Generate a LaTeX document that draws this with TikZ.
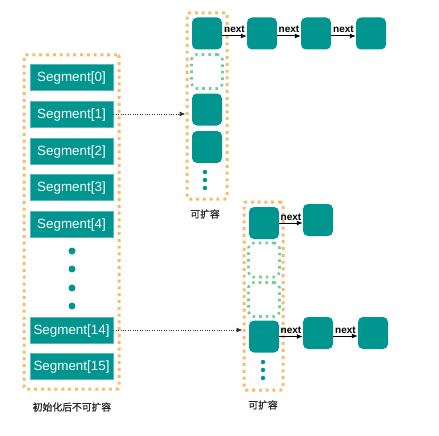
\documentclass[tikz,border=0pt]{standalone}
\usepackage{fontspec}
\setmainfont{Liberation Sans}
\newfontfamily\cjk[FakeBold=0.8]{Noto Sans CJK SC}
\usetikzlibrary{arrows.meta,calc}
\definecolor{teal1}{RGB}{0,150,143}
\definecolor{tealb}{RGB}{90,185,180}
\definecolor{orng}{RGB}{245,188,110}
\definecolor{grn}{RGB}{115,208,148}
\tikzset{
  segbox/.style={rectangle,fill=teal1,draw=tealb,line width=0.6pt,minimum width=83pt,minimum height=26pt,inner sep=0pt,text=white,text height=9.3pt,text depth=1.2pt,font=\fontsize{13.4}{15}\selectfont},
  sq/.style={rectangle,rounded corners=5pt,fill=teal1,minimum width=30pt,minimum height=32pt,inner sep=0pt},
  gsq/.style={rectangle,rounded corners=5pt,draw=grn,line width=2.6pt,dash pattern=on 2.6pt off 4pt,minimum width=31pt,minimum height=34pt,inner sep=0pt},
  obox/.style={rectangle,rounded corners=2pt,draw=orng,line width=3pt,dash pattern=on 3pt off 3.8pt,inner sep=0pt},
  dotn/.style={circle,fill=teal1,inner sep=0pt},
  nextarr/.style={-{Latex[length=6pt,width=5pt]},line width=1pt,black},
  nextlab/.style={font=\bfseries\fontsize{10}{11}\selectfont,inner sep=0pt,anchor=base},
  dotarr/.style={-{Latex[length=6pt,width=5pt]},line width=0.9pt,black!80,dash pattern=on 1pt off 1.4pt},
  cnlab/.style={font=\cjk\fontsize{9.8}{11}\selectfont,text=black!85,inner sep=0pt}
}
\begin{document}
\begin{tikzpicture}[x=1pt,y=-1pt]
\useasboundingbox (0,0) rectangle (439,436);
% left column
\node[obox,minimum width=95pt,minimum height=334pt] (lbox) at (71.5,222) {};
\node[segbox] (s0) at (71.5,77.5) {Segment[0]};
\node[segbox] (s1) at (71.5,114) {Segment[1]};
\node[segbox] (s2) at (71.5,151) {Segment[2]};
\node[segbox] (s3) at (71.5,187.5) {Segment[3]};
\node[segbox] (s4) at (71.5,224) {Segment[4]};
\node[dotn,minimum size=7pt] (ld1) at (72,251) {};
\node[dotn,minimum size=7pt] (ld2) at (72,269) {};
\node[dotn,minimum size=7pt] (ld3) at (72,288) {};
\node[dotn,minimum size=7pt] (ld4) at (72,306) {};
\node[segbox] (s14) at (71.5,330) {Segment[14]};
\node[segbox] (s15) at (71.5,366.5) {Segment[15]};
\node[cnlab] (llab) at (72,407) {初始化后不可扩容};
% top column
\node[obox,minimum width=40pt,minimum height=186pt] (tbox) at (207,106) {};
\node[sq] (t1) at (207,33.5) {};
\node[gsq] (t2) at (207,71.5) {};
\node[sq] (t3) at (207,109.5) {};
\node[sq] (t4) at (207,147) {};
\node[dotn,minimum size=4.5pt] (td1) at (205,172) {};
\node[dotn,minimum size=4.5pt] (td2) at (205,180) {};
\node[dotn,minimum size=4.5pt] (td3) at (205,188) {};
\node[cnlab] (tlab) at (205,214) {可扩容};
\node[sq] (n1) at (262,33.5) {};
\node[sq] (n2) at (316,33.5) {};
\node[sq] (n3) at (371,33.5) {};
\draw[nextarr] ([yshift=-2.5pt]t1.east) -- ([yshift=-2.5pt]t1.east -| n1.west) node[midway,above=3pt,nextlab] {next};
\draw[nextarr] ([yshift=-2.5pt]n1.east) -- ([yshift=-2.5pt]n1.east -| n2.west) node[midway,above=3pt,nextlab] {next};
\draw[nextarr] ([yshift=-2.5pt]n2.east) -- ([yshift=-2.5pt]n2.east -| n3.west) node[midway,above=3pt,nextlab] {next};
% bottom column
\node[obox,minimum width=39pt,minimum height=188pt] (bbox) at (263.5,296) {};
\node[sq] (b1) at (264,223) {};
\node[gsq] (b2) at (264,260) {};
\node[gsq] (b3) at (264,299.5) {};
\node[sq] (b4) at (264,336.5) {};
\node[dotn,minimum size=4.5pt] (bd1) at (263,362) {};
\node[dotn,minimum size=4.5pt] (bd2) at (263,370) {};
\node[dotn,minimum size=4.5pt] (bd3) at (263,378) {};
\node[cnlab] (blab) at (263,405) {可扩容};
\node[sq] (m1) at (318,220) {};
\node[sq] (m2) at (318,333) {};
\node[sq] (m3) at (373,333) {};
\draw[nextarr] (b1.east) -- (b1.east -| m1.west) node[midway,above=3pt,nextlab] {next};
\draw[nextarr] (b4.east) -- (b4.east -| m2.west) node[midway,above=3pt,nextlab] {next};
\draw[nextarr] ([yshift=-3pt]m2.east) -- ([yshift=-3pt]m2.east -| m3.west) node[midway,above=3pt,nextlab] {next};
% connectors
\draw[dotarr] (s1.east) -- (s1.east -| tbox.west);
\draw[dotarr] (s14.east) -- (s14.east -| bbox.west);
\end{tikzpicture}
\end{document}
